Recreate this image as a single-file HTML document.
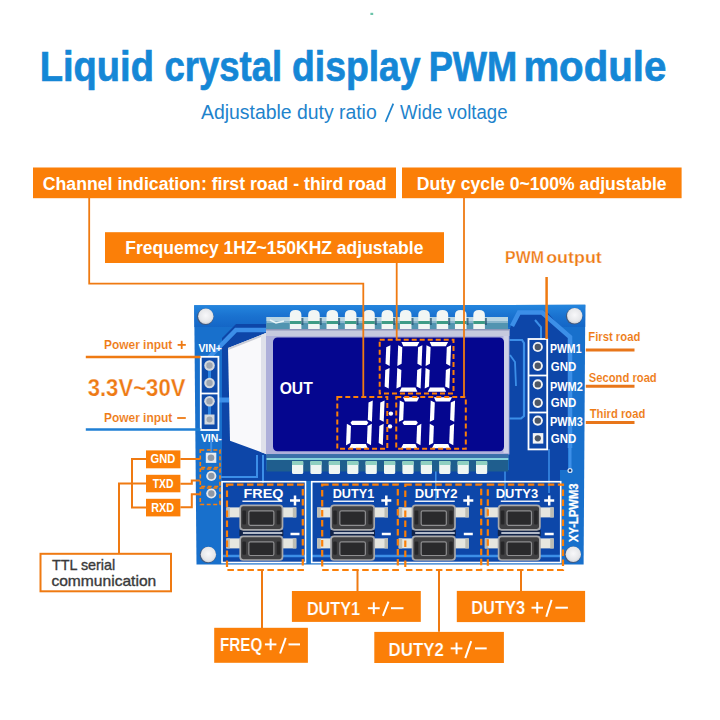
<!DOCTYPE html><html><head><meta charset="utf-8"><style>html,body{margin:0;padding:0;background:#fff;width:720px;height:720px;overflow:hidden}svg{display:block;font-family:"Liberation Sans",sans-serif}</style></head><body>
<svg width="720" height="720" viewBox="0 0 720 720">
<defs><linearGradient id="pcb" x1="0" y1="0" x2="0" y2="1"><stop offset="0" stop-color="#1f7ad6"/><stop offset="0.12" stop-color="#1868c8"/><stop offset="1" stop-color="#1460c4"/></linearGradient><radialGradient id="hole" cx="0.5" cy="0.45" r="0.55"><stop offset="0" stop-color="#f8f8fa"/><stop offset="0.75" stop-color="#e6e7ea"/><stop offset="1" stop-color="#cfd1d6"/></radialGradient><radialGradient id="pin" cx="0.5" cy="0.5" r="0.5"><stop offset="0" stop-color="#8a96a8"/><stop offset="0.45" stop-color="#c9ced6"/><stop offset="1" stop-color="#e8eaee"/></radialGradient><linearGradient id="topband" x1="0" y1="0" x2="0" y2="1"><stop offset="0" stop-color="#2486de"/><stop offset="0.5" stop-color="#1a72d0"/><stop offset="1" stop-color="#1466c6"/></linearGradient></defs>
<rect x="0" y="0" width="720" height="720" fill="#ffffff" />
<rect x="370.4" y="12.8" width="2.8" height="2.2" fill="#6cc4aa"/>
<text x="39.78" y="81" font-size="42" fill="#1587d6" font-weight="bold" text-anchor="start" textLength="114.16" lengthAdjust="spacingAndGlyphs" stroke="#1587d6" stroke-width="0.7">Liquid</text>
<text x="164.51" y="81" font-size="42" fill="#1587d6" font-weight="bold" text-anchor="start" textLength="117.6" lengthAdjust="spacingAndGlyphs" stroke="#1587d6" stroke-width="0.7">crystal</text>
<text x="291.97" y="81" font-size="42" fill="#1587d6" font-weight="bold" text-anchor="start" textLength="128.68" lengthAdjust="spacingAndGlyphs" stroke="#1587d6" stroke-width="0.7">display</text>
<text x="428.66" y="81" font-size="42" fill="#1587d6" font-weight="bold" text-anchor="start" textLength="88.63" lengthAdjust="spacingAndGlyphs" stroke="#1587d6" stroke-width="0.7">PWM</text>
<text x="523.38" y="81" font-size="42" fill="#1587d6" font-weight="bold" text-anchor="start" textLength="142.91" lengthAdjust="spacingAndGlyphs" stroke="#1587d6" stroke-width="0.7">module</text>
<text x="201" y="119.2" font-size="20.5" fill="#1e83cc" font-weight="normal" text-anchor="start" textLength="175.7" lengthAdjust="spacingAndGlyphs" >Adjustable duty ratio</text>
<path d="M385.6,121.8 L393.3,103.6" stroke="#1e83cc" stroke-width="1.7" fill="none" />
<text x="400" y="119.2" font-size="20.5" fill="#1e83cc" font-weight="normal" text-anchor="start" textLength="107.5" lengthAdjust="spacingAndGlyphs" >Wide voltage</text>
<rect x="33" y="167.5" width="363" height="30.69999999999999" fill="#fb7f08" />
<text x="42.77" y="189.5" font-size="18" fill="#fff" font-weight="bold" text-anchor="start" textLength="343.73" lengthAdjust="spacingAndGlyphs" >Channel indication: first road - third road</text>
<rect x="402" y="167.5" width="279.6" height="30.69999999999999" fill="#fb7f08" />
<text x="416.82" y="189.5" font-size="18" fill="#fff" font-weight="bold" text-anchor="start" textLength="249.8" lengthAdjust="spacingAndGlyphs" >Duty cycle 0~100% adjustable</text>
<rect x="105" y="232.2" width="339" height="30.80000000000001" fill="#fb7f08" />
<text x="125.3" y="254.3" font-size="18.5" fill="#fff" font-weight="bold" text-anchor="start" textLength="298.11" lengthAdjust="spacingAndGlyphs" >Frequemcy 1HZ~150KHZ adjustable</text>
<text x="505.11" y="262.6" font-size="16" fill="#ee7a14" font-weight="bold" text-anchor="start" textLength="38.79" lengthAdjust="spacingAndGlyphs" stroke="#fff" stroke-width="0.25">PWM</text>
<text x="546.18" y="262.6" font-size="16" fill="#ee7a14" font-weight="bold" text-anchor="start" textLength="55.64" lengthAdjust="spacingAndGlyphs" stroke="#fff" stroke-width="0.25">output</text>
<g id="pcb">
<polygon points="194.2,305.2 585.3,304.8 583.6,564.5 196.5,564.6" fill="#1870cc"/>
<polygon points="194.2,305.2 585.3,304.8 585.2,327 194.4,327" fill="url(#topband)"/>
<path d="M222,338 L236,324 L266,324 L266,470 L300,470 L300,481 L222,481 Z" fill="#0d46a8"/>
<path d="M509,330 L518,313 L548,313 L568,336 L568,470 L509,470 Z" fill="#0d46a8"/>
<path d="M224,470 L560,470 L560,481 L224,481 Z" fill="#0d46a8"/>
<rect x="223" y="482.5" width="82" height="80" fill="#0d47a9"/>
<rect x="312.5" y="482.5" width="247.5" height="80" fill="#0d47a9"/>
<path d="M209.5,357 L236,330 L266,330" stroke="#3c8fe8" stroke-width="4.5" fill="none" />
<path d="M219,400 L229,400" stroke="#3c8fe8" stroke-width="5" fill="none" />
<path d="M512,326 L519,312.5 L542,312.5 L570,337 L570,448" stroke="#3c8fe8" stroke-width="4.5" fill="none" />
<path d="M570,448 L570,470" stroke="#3c8fe8" stroke-width="3" fill="none" />
<circle cx="570" cy="470.5" r="2.6" fill="#cfe0f4"/><circle cx="570" cy="470.5" r="1.2" fill="#0b2a60"/>
<path d="M549,449 L549,493" stroke="#3c8fe8" stroke-width="1.5" fill="none" />
<path d="M535,320 L541,327 L541,339" stroke="#3c8fe8" stroke-width="2" fill="none" />
<path d="M509.5,340 L522,340 L524,343 L524,416 L521,418.5 L509.5,418.5" stroke="#3c8fe8" stroke-width="2.2" fill="none" />
<path d="M510,355 L515,362 L516,386" stroke="#3c8fe8" stroke-width="1.8" fill="none" />
<path d="M219,477 L257,477 L257,455" stroke="#3c8fe8" stroke-width="2" fill="none" />
<path d="M263,455 L263,483" stroke="#3c8fe8" stroke-width="2" fill="none" />
<path d="M312,556 L560,556" stroke="#3c8fe8" stroke-width="2.5" fill="none" />
<path d="M223,556 L305,556" stroke="#3c8fe8" stroke-width="2.5" fill="none" />
<path d="M435.8,470 L435.8,500" stroke="#3c8fe8" stroke-width="1.5" fill="none" />
<path d="M505,470 L505,500" stroke="#3c8fe8" stroke-width="1.5" fill="none" />
<circle cx="205.3" cy="316.8" r="8.3" fill="#405a80"/>
<circle cx="205.8" cy="316.3" r="7.7" fill="url(#hole)"/>
<circle cx="574.2" cy="316.3" r="8.3" fill="#405a80"/>
<circle cx="574.7" cy="315.8" r="7.7" fill="url(#hole)"/>
<circle cx="207.9" cy="555" r="8.3" fill="#405a80"/>
<circle cx="208.4" cy="554.5" r="7.7" fill="url(#hole)"/>
<circle cx="572.8" cy="554.8" r="8.3" fill="#405a80"/>
<circle cx="573.3" cy="554.3" r="7.7" fill="url(#hole)"/>
</g>
<rect x="266.4" y="317" width="241.60000000000002" height="12" fill="#8ab6cc" />
<rect x="266.4" y="317" width="241.6" height="4" fill="#c4dde8" opacity="0.8"/>
<rect x="266.4" y="323" width="241.6" height="6" fill="#3f88a8" opacity="0.75"/>
<path d="M270,320 L276,323 L284,321" stroke="#e8f4f8" stroke-width="1.5" fill="none"/>
<path d="M289.8,329 L289.8,315 Q289.8,310 295.6,310 Q301.40000000000003,310 301.40000000000003,315 L301.40000000000003,329 Z" fill="#f2f6f4"/>
<rect x="289.8" y="321" width="11.6" height="3" fill="#3f9c86"/>
<rect x="301.40000000000003" y="318" width="2" height="7" fill="#1f4f6a" opacity="0.7"/>
<path d="M308.15000000000003,329 L308.15000000000003,315 Q308.15000000000003,310 313.95000000000005,310 Q319.75000000000006,310 319.75000000000006,315 L319.75000000000006,329 Z" fill="#f2f6f4"/>
<rect x="308.15000000000003" y="321" width="11.6" height="3" fill="#3f9c86"/>
<rect x="319.75000000000006" y="318" width="2" height="7" fill="#1f4f6a" opacity="0.7"/>
<path d="M326.5,329 L326.5,315 Q326.5,310 332.3,310 Q338.1,310 338.1,315 L338.1,329 Z" fill="#f2f6f4"/>
<rect x="326.5" y="321" width="11.6" height="3" fill="#3f9c86"/>
<rect x="338.1" y="318" width="2" height="7" fill="#1f4f6a" opacity="0.7"/>
<path d="M344.85,329 L344.85,315 Q344.85,310 350.65000000000003,310 Q356.45000000000005,310 356.45000000000005,315 L356.45000000000005,329 Z" fill="#f2f6f4"/>
<rect x="344.85" y="321" width="11.6" height="3" fill="#3f9c86"/>
<rect x="356.45000000000005" y="318" width="2" height="7" fill="#1f4f6a" opacity="0.7"/>
<path d="M363.2,329 L363.2,315 Q363.2,310 369.0,310 Q374.8,310 374.8,315 L374.8,329 Z" fill="#f2f6f4"/>
<rect x="363.2" y="321" width="11.6" height="3" fill="#3f9c86"/>
<rect x="374.8" y="318" width="2" height="7" fill="#1f4f6a" opacity="0.7"/>
<path d="M381.55,329 L381.55,315 Q381.55,310 387.35,310 Q393.15000000000003,310 393.15000000000003,315 L393.15000000000003,329 Z" fill="#f2f6f4"/>
<rect x="381.55" y="321" width="11.6" height="3" fill="#3f9c86"/>
<rect x="393.15000000000003" y="318" width="2" height="7" fill="#1f4f6a" opacity="0.7"/>
<path d="M399.90000000000003,329 L399.90000000000003,315 Q399.90000000000003,310 405.70000000000005,310 Q411.50000000000006,310 411.50000000000006,315 L411.50000000000006,329 Z" fill="#f2f6f4"/>
<rect x="399.90000000000003" y="321" width="11.6" height="3" fill="#3f9c86"/>
<rect x="411.50000000000006" y="318" width="2" height="7" fill="#1f4f6a" opacity="0.7"/>
<path d="M418.25000000000006,329 L418.25000000000006,315 Q418.25000000000006,310 424.05000000000007,310 Q429.8500000000001,310 429.8500000000001,315 L429.8500000000001,329 Z" fill="#f2f6f4"/>
<rect x="418.25000000000006" y="321" width="11.6" height="3" fill="#3f9c86"/>
<rect x="429.8500000000001" y="318" width="2" height="7" fill="#1f4f6a" opacity="0.7"/>
<path d="M436.6,329 L436.6,315 Q436.6,310 442.40000000000003,310 Q448.20000000000005,310 448.20000000000005,315 L448.20000000000005,329 Z" fill="#f2f6f4"/>
<rect x="436.6" y="321" width="11.6" height="3" fill="#3f9c86"/>
<rect x="448.20000000000005" y="318" width="2" height="7" fill="#1f4f6a" opacity="0.7"/>
<path d="M454.95,329 L454.95,315 Q454.95,310 460.75,310 Q466.55,310 466.55,315 L466.55,329 Z" fill="#f2f6f4"/>
<rect x="454.95" y="321" width="11.6" height="3" fill="#3f9c86"/>
<rect x="466.55" y="318" width="2" height="7" fill="#1f4f6a" opacity="0.7"/>
<path d="M473.3,329 L473.3,315 Q473.3,310 479.1,310 Q484.90000000000003,310 484.90000000000003,315 L484.90000000000003,329 Z" fill="#f2f6f4"/>
<rect x="473.3" y="321" width="11.6" height="3" fill="#3f9c86"/>
<rect x="484.90000000000003" y="318" width="2" height="7" fill="#1f4f6a" opacity="0.7"/>
<polygon points="228,348 266,333 266,454 230,440.7" fill="#f9f9fb"/>
<polygon points="228,348 266,333 266,335 228.2,350" fill="#c9ccd6"/>
<polygon points="261,335 266,333 266,454 261,452" fill="#dfe1ea"/>
<rect x="266" y="329" width="243.39999999999998" height="125.5" fill="#aeb0da" />
<rect x="266" y="329" width="243.39999999999998" height="7" fill="#c6c9de" />
<rect x="266" y="329" width="243.39999999999998" height="1.5" fill="#8d96b8" />
<rect x="503.5" y="336" width="5" height="117" fill="#cdd0e6"/>
<rect x="273" y="337.5" width="231" height="113.8" rx="4.5" fill="#05068f"/>
<rect x="266.5" y="454.5" width="241.8" height="17.0" fill="#1f5e8e" />
<rect x="266.5" y="454.5" width="241.8" height="3.5" fill="#3b6fa8"/>
<rect x="266.5" y="458" width="241.8" height="2" fill="#86d2dc"/>
<rect x="292.0" y="461" width="11.2" height="13" rx="1.5" fill="#eef6f3"/>
<rect x="292.0" y="461" width="11.2" height="4" fill="#8fd0c0"/>
<rect x="310.4" y="461" width="11.2" height="13" rx="1.5" fill="#eef6f3"/>
<rect x="310.4" y="461" width="11.2" height="4" fill="#8fd0c0"/>
<rect x="328.8" y="461" width="11.2" height="13" rx="1.5" fill="#eef6f3"/>
<rect x="328.8" y="461" width="11.2" height="4" fill="#8fd0c0"/>
<rect x="347.2" y="461" width="11.2" height="13" rx="1.5" fill="#eef6f3"/>
<rect x="347.2" y="461" width="11.2" height="4" fill="#8fd0c0"/>
<rect x="365.6" y="461" width="11.2" height="13" rx="1.5" fill="#eef6f3"/>
<rect x="365.6" y="461" width="11.2" height="4" fill="#8fd0c0"/>
<rect x="384.0" y="461" width="11.2" height="13" rx="1.5" fill="#eef6f3"/>
<rect x="384.0" y="461" width="11.2" height="4" fill="#8fd0c0"/>
<rect x="402.4" y="461" width="11.2" height="13" rx="1.5" fill="#eef6f3"/>
<rect x="402.4" y="461" width="11.2" height="4" fill="#8fd0c0"/>
<rect x="420.79999999999995" y="461" width="11.2" height="13" rx="1.5" fill="#eef6f3"/>
<rect x="420.79999999999995" y="461" width="11.2" height="4" fill="#8fd0c0"/>
<rect x="439.2" y="461" width="11.2" height="13" rx="1.5" fill="#eef6f3"/>
<rect x="439.2" y="461" width="11.2" height="4" fill="#8fd0c0"/>
<rect x="457.6" y="461" width="11.2" height="13" rx="1.5" fill="#eef6f3"/>
<rect x="457.6" y="461" width="11.2" height="4" fill="#8fd0c0"/>
<rect x="476.0" y="461" width="11.2" height="13" rx="1.5" fill="#eef6f3"/>
<rect x="476.0" y="461" width="11.2" height="4" fill="#8fd0c0"/>
<text x="279.68" y="394.2" font-size="17" fill="#fff" font-weight="bold" text-anchor="start" textLength="33.12" lengthAdjust="spacingAndGlyphs" >OUT</text>
<polygon points="390.48,345.2 386.19,347.3 385.53,363.8 389.64,365.9" fill="#fff"/>
<polygon points="389.56,367.9 385.28,370.0 384.61,386.5 388.73,388.6" fill="#fff"/>
<polygon points="401.4,342.1 419.4,342.1 417.13,346.3 403.33,346.3" fill="#fff"/>
<polygon points="422.38,345.2 418.09,347.3 417.43,363.8 421.54,365.9" fill="#fff"/>
<polygon points="421.46,367.9 417.18,370.0 416.51,386.5 420.62,388.6" fill="#fff"/>
<polygon points="401.67,387.5 415.47,387.5 417.4,391.7 399.4,391.7" fill="#fff"/>
<polygon points="397.26,367.9 401.38,370.0 400.71,386.5 396.43,388.6" fill="#fff"/>
<polygon points="398.18,345.2 402.29,347.3 401.62,363.8 397.34,365.9" fill="#fff"/>
<polygon points="429.7,342.1 448.1,342.1 445.83,346.3 431.63,346.3" fill="#fff"/>
<polygon points="451.08,345.2 446.79,347.3 446.12,363.8 450.24,365.9" fill="#fff"/>
<polygon points="450.16,367.9 445.88,370.0 445.21,386.5 449.33,388.6" fill="#fff"/>
<polygon points="429.97,387.5 444.17,387.5 446.1,391.7 427.7,391.7" fill="#fff"/>
<polygon points="425.56,367.9 429.68,370.0 429.01,386.5 424.73,388.6" fill="#fff"/>
<polygon points="426.48,345.2 430.59,347.3 429.93,363.8 425.64,365.9" fill="#fff"/>
<polygon points="372.78,400.4 368.5,402.5 367.82,419.7 371.94,421.8" fill="#fff"/>
<polygon points="371.86,423.8 367.58,425.9 366.9,443.1 371.02,445.2" fill="#fff"/>
<polygon points="351.26,444.1 365.86,444.1 367.8,448.3 349.0,448.3" fill="#fff"/>
<polygon points="346.86,423.8 350.98,425.9 350.3,443.1 346.02,445.2" fill="#fff"/>
<polygon points="350.42,422.8 352.18,420.7 366.78,420.7 368.38,422.8 366.62,424.9 352.02,424.9" fill="#fff"/>
<polygon points="384.58,400.4 380.3,402.5 379.62,419.7 383.74,421.8" fill="#fff"/>
<polygon points="383.66,423.8 379.38,425.9 378.7,443.1 382.82,445.2" fill="#fff"/>
<circle cx="390.9" cy="413.6" r="2.2" fill="#fff"/><circle cx="390" cy="426.4" r="2.2" fill="#fff"/>
<polygon points="403.0,397.3 419.3,397.3 417.04,401.5 404.94,401.5" fill="#fff"/>
<polygon points="399.78,400.4 403.9,402.5 403.22,419.7 398.94,421.8" fill="#fff"/>
<polygon points="402.42,422.8 404.18,420.7 416.28,420.7 417.88,422.8 416.12,424.9 404.02,424.9" fill="#fff"/>
<polygon points="421.36,423.8 417.08,425.9 416.4,443.1 420.52,445.2" fill="#fff"/>
<polygon points="403.26,444.1 415.36,444.1 417.3,448.3 401.0,448.3" fill="#fff"/>
<polygon points="433.9,397.3 452.1,397.3 449.84,401.5 435.84,401.5" fill="#fff"/>
<polygon points="455.08,400.4 450.8,402.5 450.12,419.7 454.24,421.8" fill="#fff"/>
<polygon points="454.16,423.8 449.88,425.9 449.2,443.1 453.32,445.2" fill="#fff"/>
<polygon points="434.16,444.1 448.16,444.1 450.1,448.3 431.9,448.3" fill="#fff"/>
<polygon points="429.76,423.8 433.88,425.9 433.2,443.1 428.92,445.2" fill="#fff"/>
<polygon points="430.68,400.4 434.8,402.5 434.12,419.7 429.84,421.8" fill="#fff"/>
<rect x="200.8" y="356.8" width="17.6" height="73.2" fill="#0e4aaa" stroke="#ffffff" stroke-width="1.8"/>
<path d="M200.8,393.5 L218.4,393.5" stroke="#ffffff" stroke-width="1.8" fill="none" />
<path d="M209.5,365 L209.5,383" stroke="#2f86e4" stroke-width="3" fill="none" />
<path d="M209.5,401 L209.5,419" stroke="#2f86e4" stroke-width="3" fill="none" />
<circle cx="209.5" cy="365.5" r="5.3" fill="#d4d8de"/><circle cx="209.5" cy="365.5" r="3.2" fill="#9ea6b2"/>
<circle cx="209.5" cy="383" r="5.3" fill="#d4d8de"/><circle cx="209.5" cy="383" r="3.2" fill="#9ea6b2"/>
<circle cx="209.5" cy="401.3" r="5.3" fill="#d4d8de"/><circle cx="209.5" cy="401.3" r="3.2" fill="#9ea6b2"/>
<rect x="204.5" y="414.5" width="10" height="10" fill="#d4d8de"/><circle cx="209.5" cy="419.5" r="3" fill="#9ea6b2"/>
<text x="198.4" y="352.2" font-size="11" fill="#ffffff" font-weight="bold" text-anchor="start" textLength="23.53" lengthAdjust="spacingAndGlyphs" >VIN+</text>
<text x="200.9" y="442.2" font-size="11" fill="#ffffff" font-weight="bold" text-anchor="start" textLength="20.9" lengthAdjust="spacingAndGlyphs" >VIN-</text>
<path d="M211.2,440 L211.2,452" stroke="#3c8fe8" stroke-width="2" fill="none" />
<rect x="205.8" y="452.7" width="10.5" height="10.2" fill="#e8eaee"/><circle cx="211" cy="457.8" r="3.3" fill="#8e98a6"/>
<circle cx="211.3" cy="476" r="5.1" fill="#e8eaee"/><circle cx="211.3" cy="476" r="3.2" fill="#8e98a6"/>
<circle cx="211.3" cy="493.5" r="5.1" fill="#e8eaee"/><circle cx="211.3" cy="493.5" r="3.2" fill="#8e98a6"/>
<rect x="200.3" y="450" width="19.69999999999999" height="17.5" fill="none" stroke="#fb7f08" stroke-width="1.6" stroke-dasharray="4 2.5"/>
<rect x="200.3" y="469" width="19.69999999999999" height="17.5" fill="none" stroke="#fb7f08" stroke-width="1.6" stroke-dasharray="4 2.5"/>
<rect x="200.3" y="488" width="19.69999999999999" height="16.5" fill="none" stroke="#fb7f08" stroke-width="1.6" stroke-dasharray="4 2.5"/>
<rect x="528.5" y="339" width="18.7" height="110.4" fill="none" stroke="#ffffff" stroke-width="1.8"/>
<path d="M528.5,375.5 L547.2,375.5" stroke="#ffffff" stroke-width="1.8" fill="none" />
<path d="M528.5,412.5 L547.2,412.5" stroke="#ffffff" stroke-width="1.8" fill="none" />
<circle cx="537.8" cy="347" r="5.1" fill="#f2f3f5"/><circle cx="537.8" cy="347" r="3.2" fill="#4d5766"/>
<circle cx="537.8" cy="365.8" r="5.1" fill="#f2f3f5"/><circle cx="537.8" cy="365.8" r="3.2" fill="#4d5766"/>
<circle cx="537.8" cy="384.4" r="5.1" fill="#f2f3f5"/><circle cx="537.8" cy="384.4" r="3.2" fill="#4d5766"/>
<circle cx="537.8" cy="402.8" r="5.1" fill="#f2f3f5"/><circle cx="537.8" cy="402.8" r="3.2" fill="#4d5766"/>
<circle cx="537.8" cy="420.6" r="5.1" fill="#f2f3f5"/><circle cx="537.8" cy="420.6" r="3.2" fill="#4d5766"/>
<rect x="532.8" y="433.1" width="10.5" height="10.5" fill="#f2f3f5"/><circle cx="537.8" cy="438.3" r="3.1" fill="#4d5766"/>
<text x="549.92" y="353.1" font-size="12" fill="#ffffff" font-weight="bold" text-anchor="start" textLength="31.58" lengthAdjust="spacingAndGlyphs" >PWM1</text>
<text x="550.8" y="370.8" font-size="12" fill="#ffffff" font-weight="bold" text-anchor="start" textLength="25.44" lengthAdjust="spacingAndGlyphs" >GND</text>
<text x="549.89" y="390.6" font-size="12" fill="#ffffff" font-weight="bold" text-anchor="start" textLength="32.91" lengthAdjust="spacingAndGlyphs" >PWM2</text>
<text x="550.8" y="407.2" font-size="12" fill="#ffffff" font-weight="bold" text-anchor="start" textLength="25.44" lengthAdjust="spacingAndGlyphs" >GND</text>
<text x="549.89" y="425.6" font-size="12" fill="#ffffff" font-weight="bold" text-anchor="start" textLength="32.91" lengthAdjust="spacingAndGlyphs" >PWM3</text>
<text x="550.8" y="443.3" font-size="12" fill="#ffffff" font-weight="bold" text-anchor="start" textLength="25.44" lengthAdjust="spacingAndGlyphs" >GND</text>
<rect x="222" y="481.7" width="83.5" height="80.8" fill="none" stroke="#ffffff" stroke-width="1.6"/>
<rect x="311.7" y="481.7" width="249" height="80.8" fill="none" stroke="#ffffff" stroke-width="1.6"/>
<rect x="239.4" y="530" width="43.900000000000006" height="6" fill="#12244a"/>
<rect x="226.4" y="507.40000000000003" width="15" height="10" fill="#e6e6df"/>
<rect x="281.3" y="507.40000000000003" width="15" height="10" fill="#e6e6df"/>
<rect x="226.4" y="507.40000000000003" width="3.5" height="10" fill="#bdbdb4"/>
<rect x="292.8" y="507.40000000000003" width="3.5" height="10" fill="#bdbdb4"/>
<rect x="240.20000000000002" y="505.40000000000003" width="42.300000000000004" height="24.4" rx="3" fill="#404042" stroke="#a9a9ab" stroke-width="1.7"/>
<rect x="242.4" y="510.6" width="3.6" height="14.0" rx="1" fill="#262628"/>
<rect x="276.7" y="510.6" width="3.6" height="14.0" rx="1" fill="#262628"/>
<rect x="248.8385" y="510.8" width="25.023" height="14.5" rx="1.5" fill="#2a2a2c" stroke="#8e8e90" stroke-width="1.2"/>
<rect x="226.4" y="538.4" width="15" height="10" fill="#e6e6df"/>
<rect x="281.3" y="538.4" width="15" height="10" fill="#e6e6df"/>
<rect x="226.4" y="538.4" width="3.5" height="10" fill="#bdbdb4"/>
<rect x="292.8" y="538.4" width="3.5" height="10" fill="#bdbdb4"/>
<rect x="240.20000000000002" y="536.4" width="42.300000000000004" height="23.59999999999993" rx="3" fill="#404042" stroke="#a9a9ab" stroke-width="1.7"/>
<rect x="242.4" y="541.6" width="3.6" height="13.199999999999932" rx="1" fill="#262628"/>
<rect x="276.7" y="541.6" width="3.6" height="13.199999999999932" rx="1" fill="#262628"/>
<rect x="248.8385" y="541.8000000000001" width="25.023" height="13.699999999999932" rx="1.5" fill="#2a2a2c" stroke="#8e8e90" stroke-width="1.2"/>
<path d="M242.4,501.2 L282.3,501.2" stroke="#e8ecf4" stroke-width="1.6" fill="none" />
<path d="M242.9,533.1 L282.3,533.1" stroke="#e8ecf4" stroke-width="1.5" fill="none" />
<rect x="330.2" y="530" width="44.80000000000001" height="6" fill="#12244a"/>
<rect x="317.2" y="507.40000000000003" width="15" height="10" fill="#e6e6df"/>
<rect x="373" y="507.40000000000003" width="15" height="10" fill="#e6e6df"/>
<rect x="317.2" y="507.40000000000003" width="3.5" height="10" fill="#bdbdb4"/>
<rect x="384.5" y="507.40000000000003" width="3.5" height="10" fill="#bdbdb4"/>
<rect x="331.0" y="505.40000000000003" width="43.20000000000001" height="24.4" rx="3" fill="#404042" stroke="#a9a9ab" stroke-width="1.7"/>
<rect x="333.2" y="510.6" width="3.6" height="14.0" rx="1" fill="#262628"/>
<rect x="368.4" y="510.6" width="3.6" height="14.0" rx="1" fill="#262628"/>
<rect x="339.832" y="510.8" width="25.536000000000005" height="14.5" rx="1.5" fill="#2a2a2c" stroke="#8e8e90" stroke-width="1.2"/>
<rect x="317.2" y="538.4" width="15" height="10" fill="#e6e6df"/>
<rect x="373" y="538.4" width="15" height="10" fill="#e6e6df"/>
<rect x="317.2" y="538.4" width="3.5" height="10" fill="#bdbdb4"/>
<rect x="384.5" y="538.4" width="3.5" height="10" fill="#bdbdb4"/>
<rect x="331.0" y="536.4" width="43.20000000000001" height="23.59999999999993" rx="3" fill="#404042" stroke="#a9a9ab" stroke-width="1.7"/>
<rect x="333.2" y="541.6" width="3.6" height="13.199999999999932" rx="1" fill="#262628"/>
<rect x="368.4" y="541.6" width="3.6" height="13.199999999999932" rx="1" fill="#262628"/>
<rect x="339.832" y="541.8000000000001" width="25.536000000000005" height="13.699999999999932" rx="1.5" fill="#2a2a2c" stroke="#8e8e90" stroke-width="1.2"/>
<path d="M333.2,501.2 L374,501.2" stroke="#e8ecf4" stroke-width="1.6" fill="none" />
<path d="M333.7,533.1 L374,533.1" stroke="#e8ecf4" stroke-width="1.5" fill="none" />
<rect x="411.7" y="530" width="44.10000000000002" height="6" fill="#12244a"/>
<rect x="398.7" y="507.40000000000003" width="15" height="10" fill="#e6e6df"/>
<rect x="453.8" y="507.40000000000003" width="15" height="10" fill="#e6e6df"/>
<rect x="398.7" y="507.40000000000003" width="3.5" height="10" fill="#bdbdb4"/>
<rect x="465.3" y="507.40000000000003" width="3.5" height="10" fill="#bdbdb4"/>
<rect x="412.5" y="505.40000000000003" width="42.50000000000002" height="24.4" rx="3" fill="#404042" stroke="#a9a9ab" stroke-width="1.7"/>
<rect x="414.7" y="510.6" width="3.6" height="14.0" rx="1" fill="#262628"/>
<rect x="449.2" y="510.6" width="3.6" height="14.0" rx="1" fill="#262628"/>
<rect x="421.18149999999997" y="510.8" width="25.13700000000001" height="14.5" rx="1.5" fill="#2a2a2c" stroke="#8e8e90" stroke-width="1.2"/>
<rect x="398.7" y="538.4" width="15" height="10" fill="#e6e6df"/>
<rect x="453.8" y="538.4" width="15" height="10" fill="#e6e6df"/>
<rect x="398.7" y="538.4" width="3.5" height="10" fill="#bdbdb4"/>
<rect x="465.3" y="538.4" width="3.5" height="10" fill="#bdbdb4"/>
<rect x="412.5" y="536.4" width="42.50000000000002" height="23.59999999999993" rx="3" fill="#404042" stroke="#a9a9ab" stroke-width="1.7"/>
<rect x="414.7" y="541.6" width="3.6" height="13.199999999999932" rx="1" fill="#262628"/>
<rect x="449.2" y="541.6" width="3.6" height="13.199999999999932" rx="1" fill="#262628"/>
<rect x="421.18149999999997" y="541.8000000000001" width="25.13700000000001" height="13.699999999999932" rx="1.5" fill="#2a2a2c" stroke="#8e8e90" stroke-width="1.2"/>
<path d="M414.7,501.2 L454.8,501.2" stroke="#e8ecf4" stroke-width="1.6" fill="none" />
<path d="M415.2,533.1 L454.8,533.1" stroke="#e8ecf4" stroke-width="1.5" fill="none" />
<rect x="497.8" y="530" width="42.900000000000034" height="6" fill="#12244a"/>
<rect x="484.8" y="507.40000000000003" width="15" height="10" fill="#e6e6df"/>
<rect x="538.7" y="507.40000000000003" width="15" height="10" fill="#e6e6df"/>
<rect x="484.8" y="507.40000000000003" width="3.5" height="10" fill="#bdbdb4"/>
<rect x="550.2" y="507.40000000000003" width="3.5" height="10" fill="#bdbdb4"/>
<rect x="498.6" y="505.40000000000003" width="41.30000000000003" height="24.4" rx="3" fill="#404042" stroke="#a9a9ab" stroke-width="1.7"/>
<rect x="500.8" y="510.6" width="3.6" height="14.0" rx="1" fill="#262628"/>
<rect x="534.1" y="510.6" width="3.6" height="14.0" rx="1" fill="#262628"/>
<rect x="507.0235" y="510.8" width="24.453000000000017" height="14.5" rx="1.5" fill="#2a2a2c" stroke="#8e8e90" stroke-width="1.2"/>
<rect x="484.8" y="538.4" width="15" height="10" fill="#e6e6df"/>
<rect x="538.7" y="538.4" width="15" height="10" fill="#e6e6df"/>
<rect x="484.8" y="538.4" width="3.5" height="10" fill="#bdbdb4"/>
<rect x="550.2" y="538.4" width="3.5" height="10" fill="#bdbdb4"/>
<rect x="498.6" y="536.4" width="41.30000000000003" height="23.59999999999993" rx="3" fill="#404042" stroke="#a9a9ab" stroke-width="1.7"/>
<rect x="500.8" y="541.6" width="3.6" height="13.199999999999932" rx="1" fill="#262628"/>
<rect x="534.1" y="541.6" width="3.6" height="13.199999999999932" rx="1" fill="#262628"/>
<rect x="507.0235" y="541.8000000000001" width="24.453000000000017" height="13.699999999999932" rx="1.5" fill="#2a2a2c" stroke="#8e8e90" stroke-width="1.2"/>
<path d="M500.8,501.2 L539.7,501.2" stroke="#e8ecf4" stroke-width="1.6" fill="none" />
<path d="M501.3,533.1 L539.7,533.1" stroke="#e8ecf4" stroke-width="1.5" fill="none" />
<text x="243.55" y="497.5" font-size="12.5" fill="#ffffff" font-weight="bold" text-anchor="start" textLength="39.79" lengthAdjust="spacingAndGlyphs" >FREQ</text>
<text x="332.69" y="497.5" font-size="12.5" fill="#ffffff" font-weight="bold" text-anchor="start" textLength="41.5" lengthAdjust="spacingAndGlyphs" >DUTY1</text>
<text x="414.76" y="497.5" font-size="12.5" fill="#ffffff" font-weight="bold" text-anchor="start" textLength="42.73" lengthAdjust="spacingAndGlyphs" >DUTY2</text>
<text x="495.77" y="497.5" font-size="12.5" fill="#ffffff" font-weight="bold" text-anchor="start" textLength="42.32" lengthAdjust="spacingAndGlyphs" >DUTY3</text>
<path d="M290,500.5 L300,500.5" stroke="#ffffff" stroke-width="2.5" fill="none" />
<path d="M295,495.5 L295,505.5" stroke="#ffffff" stroke-width="2.5" fill="none" />
<path d="M290.5,534 L299.5,534" stroke="#ffffff" stroke-width="2.5" fill="none" />
<path d="M381.3,500.5 L391.3,500.5" stroke="#ffffff" stroke-width="2.5" fill="none" />
<path d="M386.3,495.5 L386.3,505.5" stroke="#ffffff" stroke-width="2.5" fill="none" />
<path d="M381.8,534 L390.8,534" stroke="#ffffff" stroke-width="2.5" fill="none" />
<path d="M463.3,500.5 L473.3,500.5" stroke="#ffffff" stroke-width="2.5" fill="none" />
<path d="M468.3,495.5 L468.3,505.5" stroke="#ffffff" stroke-width="2.5" fill="none" />
<path d="M463.8,534 L472.8,534" stroke="#ffffff" stroke-width="2.5" fill="none" />
<path d="M544.2,500.5 L554.2,500.5" stroke="#ffffff" stroke-width="2.5" fill="none" />
<path d="M549.2,495.5 L549.2,505.5" stroke="#ffffff" stroke-width="2.5" fill="none" />
<path d="M544.7,534 L553.7,534" stroke="#ffffff" stroke-width="2.5" fill="none" />
<text x="0" y="0" font-size="13" font-weight="bold" fill="#fff" textLength="58.5" lengthAdjust="spacingAndGlyphs" stroke="#fff" stroke-width="0.3" transform="translate(577.8,542) rotate(-90)">XY-LPWM3</text>
<rect x="379.7" y="339.7" width="73.80000000000001" height="53.69999999999999" fill="none" stroke="#fb7f08" stroke-width="2" stroke-dasharray="5 3"/>
<rect x="337.3" y="397" width="50.0" height="51.75" fill="none" stroke="#fb7f08" stroke-width="2" stroke-dasharray="5 3"/>
<rect x="396.25" y="397" width="69.55000000000001" height="51.75" fill="none" stroke="#fb7f08" stroke-width="2" stroke-dasharray="5 3"/>
<rect x="227" y="484.7" width="75.80000000000001" height="85.30000000000001" fill="none" stroke="#fb7f08" stroke-width="2.2" stroke-dasharray="6.5 3.5"/>
<rect x="322.2" y="484.7" width="75.60000000000002" height="85.30000000000001" fill="none" stroke="#fb7f08" stroke-width="2.2" stroke-dasharray="6.5 3.5"/>
<rect x="405.3" y="484.7" width="75.89999999999998" height="85.30000000000001" fill="none" stroke="#fb7f08" stroke-width="2.2" stroke-dasharray="6.5 3.5"/>
<rect x="487.8" y="484.7" width="75.19999999999999" height="85.30000000000001" fill="none" stroke="#fb7f08" stroke-width="2.2" stroke-dasharray="6.5 3.5"/>
<path d="M89.2,198 L89.2,283.7 L363.3,283.7 L363.3,397" stroke="#ef7a12" stroke-width="1.8" fill="none" />
<path d="M396.7,263 L396.7,339.7" stroke="#ef7a12" stroke-width="1.8" fill="none" />
<path d="M464,198 L464,397" stroke="#ef7a12" stroke-width="1.8" fill="none" />
<path d="M546.6,277 L546.6,339" stroke="#ef7a12" stroke-width="2.5" fill="none" />
<path d="M85.8,357 L200.5,357" stroke="#ef7a12" stroke-width="2.5" fill="none" />
<path d="M85.8,429.6 L200.5,429.6" stroke="#1f7fd4" stroke-width="2.5" fill="none" />
<path d="M585.8,350 L634.5,350" stroke="#e8761a" stroke-width="3" fill="none" />
<path d="M585.8,386.2 L634.5,386.2" stroke="#e8761a" stroke-width="3" fill="none" />
<path d="M585.8,422.5 L634.5,422.5" stroke="#e8761a" stroke-width="3" fill="none" />
<text x="104.01" y="349" font-size="12" fill="#ee7a14" font-weight="bold" text-anchor="start" textLength="68.27" lengthAdjust="spacingAndGlyphs" stroke="#fff" stroke-width="0.1">Power input</text>
<path d="M177.6,344.9 L185.8,344.9" stroke="#ee7a14" stroke-width="1.8" fill="none" />
<path d="M181.7,340.8 L181.7,349" stroke="#ee7a14" stroke-width="1.8" fill="none" />
<text x="87.66" y="396" font-size="23.5" fill="#ee7a14" font-weight="bold" text-anchor="start" textLength="97.84" lengthAdjust="spacingAndGlyphs" stroke="#fff" stroke-width="0.25">3.3V~30V</text>
<text x="104.01" y="422.2" font-size="12" fill="#ee7a14" font-weight="bold" text-anchor="start" textLength="68.27" lengthAdjust="spacingAndGlyphs" stroke="#fff" stroke-width="0.1">Power input</text>
<path d="M177.2,418 L185.8,418" stroke="#ee7a14" stroke-width="1.8" fill="none" />
<text x="588.26" y="341.1" font-size="12" fill="#ee7a14" font-weight="bold" text-anchor="start" textLength="52.06" lengthAdjust="spacingAndGlyphs" stroke="#fff" stroke-width="0.1">First road</text>
<text x="588.76" y="381.9" font-size="12" fill="#ee7a14" font-weight="bold" text-anchor="start" textLength="67.98" lengthAdjust="spacingAndGlyphs" stroke="#fff" stroke-width="0.1">Second road</text>
<text x="589.7" y="417.9" font-size="12" fill="#ee7a14" font-weight="bold" text-anchor="start" textLength="55.62" lengthAdjust="spacingAndGlyphs" stroke="#fff" stroke-width="0.1">Third road</text>
<rect x="146" y="450.4" width="34.400000000000006" height="17.900000000000034" fill="#fb7f08" />
<text x="150.6" y="463.3" font-size="12" fill="#ffffff" font-weight="bold" text-anchor="start" textLength="24.72" lengthAdjust="spacingAndGlyphs" >GND</text>
<rect x="146" y="474.8" width="34.400000000000006" height="17.5" fill="#fb7f08" />
<text x="152.8" y="487.8" font-size="12" fill="#ffffff" font-weight="bold" text-anchor="start" textLength="20.7" lengthAdjust="spacingAndGlyphs" >TXD</text>
<rect x="146" y="498.8" width="34.400000000000006" height="17.599999999999966" fill="#fb7f08" />
<text x="151.2" y="511.8" font-size="12" fill="#ffffff" font-weight="bold" text-anchor="start" textLength="22.91" lengthAdjust="spacingAndGlyphs" >RXD</text>
<path d="M146,459 L132,459 L132,507.5 L146,507.5" stroke="#ef7a12" stroke-width="2" fill="none" />
<path d="M119,553.8 L119,483.5 L146,483.5" stroke="#ef7a12" stroke-width="2" fill="none" />
<path d="M180.4,459 L200.2,459" stroke="#ef7a12" stroke-width="2" fill="none" />
<path d="M180.4,483.8 L191.8,483.8 L191.8,480.5 L200.2,480.5" stroke="#ef7a12" stroke-width="2" fill="none" />
<path d="M180.4,507.3 L191.8,507.3 L191.8,494.2 L200.2,494.2" stroke="#ef7a12" stroke-width="2" fill="none" />
<rect x="40.5" y="553.8" width="130.5" height="37.5" fill="#fff" stroke="#ef7a12" stroke-width="2"/>
<text x="52.0" y="570.1" font-size="14.5" fill="#3a3a3a" font-weight="normal" text-anchor="start" textLength="63.21" lengthAdjust="spacingAndGlyphs" stroke="#3a3a3a" stroke-width="0.35">TTL serial</text>
<text x="51.42" y="586.4" font-size="14.5" fill="#3a3a3a" font-weight="normal" text-anchor="start" textLength="104.83" lengthAdjust="spacingAndGlyphs" stroke="#3a3a3a" stroke-width="0.35">communication</text>
<path d="M262,570 L262,628" stroke="#ef7a12" stroke-width="2" fill="none" />
<path d="M357.5,570 L357.5,591.2" stroke="#ef7a12" stroke-width="2" fill="none" />
<path d="M439,570 L439,631.7" stroke="#ef7a12" stroke-width="2" fill="none" />
<path d="M521,570 L521,591" stroke="#ef7a12" stroke-width="2" fill="none" />
<rect x="214.2" y="627.8" width="93.69999999999999" height="35.0" fill="#fb7f08" />
<text x="219.94" y="651.2" font-size="17.8" fill="#ffffff" font-weight="bold" text-anchor="start" textLength="42.41" lengthAdjust="spacingAndGlyphs" stroke="#fb7f08" stroke-width="0.22">FREQ</text>
<path d="M264.9,644.4 L276.4,644.4" stroke="#ffffff" stroke-width="2.0" fill="none" />
<path d="M270.65,638.65 L270.65,650.15" stroke="#ffffff" stroke-width="2.0" fill="none" />
<path d="M285.7,637.8 L280.1,653.5" stroke="#ffffff" stroke-width="2.0" fill="none" />
<path d="M288.5,644.4 L300,644.4" stroke="#ffffff" stroke-width="2.0" fill="none" />
<rect x="291.9" y="591" width="128.90000000000003" height="30.899999999999977" fill="#fb7f08" />
<text x="306.89" y="614.9" font-size="17.8" fill="#ffffff" font-weight="bold" text-anchor="start" textLength="53.18" lengthAdjust="spacingAndGlyphs" stroke="#fb7f08" stroke-width="0.22">DUTY1</text>
<path d="M367.9,608.2 L379.7,608.2" stroke="#ffffff" stroke-width="2.0" fill="none" />
<path d="M373.79999999999995,602.3000000000001 L373.79999999999995,614.1" stroke="#ffffff" stroke-width="2.0" fill="none" />
<path d="M388.5,601.6 L382.9,615.9" stroke="#ffffff" stroke-width="2.0" fill="none" />
<path d="M391,608.2 L403.5,608.2" stroke="#ffffff" stroke-width="2.0" fill="none" />
<rect x="374.3" y="631.9" width="129.59999999999997" height="31.100000000000023" fill="#fb7f08" />
<text x="388.55" y="655.7" font-size="17.8" fill="#ffffff" font-weight="bold" text-anchor="start" textLength="55.23" lengthAdjust="spacingAndGlyphs" stroke="#fb7f08" stroke-width="0.22">DUTY2</text>
<path d="M450.7,648.4 L462.4,648.4" stroke="#ffffff" stroke-width="2.0" fill="none" />
<path d="M456.54999999999995,642.55 L456.54999999999995,654.25" stroke="#ffffff" stroke-width="2.0" fill="none" />
<path d="M471.2,641.2 L465.3,658.2" stroke="#ffffff" stroke-width="2.0" fill="none" />
<path d="M475,648.4 L486.7,648.4" stroke="#ffffff" stroke-width="2.0" fill="none" />
<rect x="456.8" y="590.9" width="128.3" height="31.200000000000045" fill="#fb7f08" />
<text x="471.18" y="614.4" font-size="17.8" fill="#ffffff" font-weight="bold" text-anchor="start" textLength="53.9" lengthAdjust="spacingAndGlyphs" stroke="#fb7f08" stroke-width="0.22">DUTY3</text>
<path d="M531.5,607.7 L543,607.7" stroke="#ffffff" stroke-width="2.0" fill="none" />
<path d="M537.25,601.95 L537.25,613.45" stroke="#ffffff" stroke-width="2.0" fill="none" />
<path d="M551.6,599.9 L546.3,616.7" stroke="#ffffff" stroke-width="2.0" fill="none" />
<path d="M555.4,607.7 L567.9,607.7" stroke="#ffffff" stroke-width="2.0" fill="none" />
</svg></body></html>
